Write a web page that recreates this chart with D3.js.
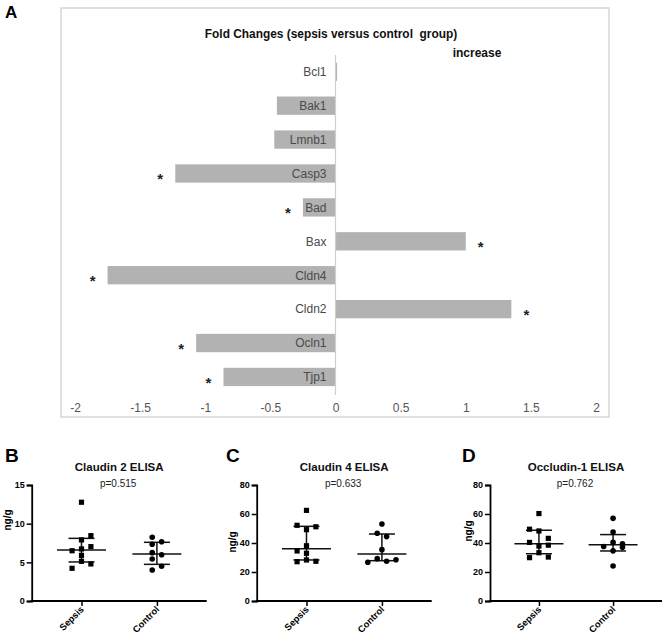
<!DOCTYPE html>
<html>
<head>
<meta charset="utf-8">
<script src="https://cdn.jsdelivr.net/npm/d3@7"></script>
<style>
  html, body { margin: 0; padding: 0; background: #fff; }
  svg { display: block; font-family: "Liberation Sans", Arial, sans-serif; }
</style>
</head>
<body>
<svg id="chart" width="669" height="637"></svg>
<script>
// ---------- Panel A data ----------
const genes = ['Bcl1', 'Bak1', 'Lmnb1', 'Casp3', 'Bad', 'Bax', 'Cldn4', 'Cldn2', 'Ocln1', 'Tjp1'];
const foldChanges = [0.012, -0.45, -0.47, -1.23, -0.25, 1.0, -1.75, 1.35, -1.07, -0.86];
const significant = [false, false, false, true, true, true, true, true, true, true];
const foldTicks = [-2, -1.5, -1, -0.5, 0, 0.5, 1, 1.5, 2];
const foldTickLabels = ['-2', '-1.5', '-1', '-0.5', '0', '0.5', '1', '1.5', '2'];
const titleA = 'Fold Changes (sepsis versus control  group)';
const increaseLabel = 'increase';

// ---------- Panels B-D data ----------
const groups = ['Sepsis', 'Control'];
const panelLetters = ['B', 'C', 'D'];
const panelTitles = ['Claudin 2 ELISA', 'Claudin 4 ELISA', 'Occludin-1 ELISA'];
const pValues = ['p=0.515', 'p=0.633', 'p=0.762'];
const yMaxes = [15, 80, 80];
const yTicksB = [0, 5, 10, 15];
const yTicksCD = [0, 20, 40, 60, 80];

const claudin2Sepsis  = [12.77, 8.45, 7.9, 7.03, 6.73, 6.5, 5.9, 5.13, 4.79, 4.23];
const claudin2SepsisSlot = [0, 1, 0, 1, 0, -1, 0, 0, 1, -1];
const claudin2Control = [8.24, 7.33, 7.67, 6.25, 5.99, 5.43, 4.49, 4.01];
const claudin2ControlSlot = [-0.5, -0.5, 0.5, -0.5, 0.5, -0.5, 0.5, -0.5];
const claudin2SepsisStats  = [5.05, 6.6, 8.1];   // q1, median, q3
const claudin2ControlStats = [4.74, 6.08, 7.59];

const claudin4Sepsis  = [62.5, 52.2, 51.2, 49.2, 38.1, 34.5, 32.9, 28.3, 27.1, 27.4];
const claudin4SepsisSlot = [0, -1, 1, 0, 0, -1, 0, 0, -1, 1];
const claudin4Control = [53.1, 46.7, 44.4, 35.4, 29.2, 26.7, 27.4, 28.5];
const claudin4ControlSlot = [0, -0.5, 0.5, 0, -0.5, -1.5, 0.5, 1.5];
const claudin4SepsisStats  = [28.3, 36.1, 51.5];
const claudin4ControlStats = [27.8, 32.4, 46.2];

const occludinSepsis  = [60.3, 49.5, 48.3, 43.2, 40.4, 37.9, 38.5, 33.3, 29.9, 30.3];
const occludinSepsisSlot = [0, -1, 0, 1, -1, 0, 1, 0, -1, 1];
const occludinControl = [57, 47.6, 40.4, 37.6, 39.5, 34.6, 37.0, 24.1];
const occludinControlSlot = [0, 0, 0, -1, 1, 0, 1, 0];
const occludinSepsisStats  = [32.6, 39.4, 48.8];
const occludinControlStats = [34.5, 38.8, 45.8];

const FONT = '"Liberation Sans", Arial, sans-serif';
const svg = d3.select('#chart');

// ================= Panel A =================
svg.append('text').attr('x', 5).attr('y', 17.5)
  .attr('font-size', 17).attr('font-weight', 'bold').text('A');

svg.append('rect').attr('x', 61).attr('y', 8).attr('width', 548).attr('height', 409)
  .attr('fill', 'none').attr('stroke', '#d6d6d6').attr('stroke-width', 1.5);

svg.append('text').attr('x', 331).attr('y', 37.5)
  .attr('text-anchor', 'middle').attr('font-size', 11.9).attr('font-weight', 'bold')
  .attr('fill', '#111').style('white-space', 'pre').text(titleA);
svg.append('text').attr('x', 477).attr('y', 56.5)
  .attr('text-anchor', 'middle').attr('font-size', 12).attr('font-weight', 'bold')
  .attr('fill', '#111').text(increaseLabel);

const xA = d3.scaleLinear().domain([-2, 2]).range([75, 596]);
const yA = d3.scaleBand().domain(genes).range([47, 401.7]).paddingInner(0.46).paddingOuter(0.46);

const aData = genes.map((g, i) => ({ gene: g, v: foldChanges[i], sig: significant[i] }));

svg.append('g').selectAll('rect').data(aData).join('rect')
  .attr('x', d => Math.min(xA(0), xA(d.v)))
  .attr('y', d => yA(d.gene))
  .attr('width', d => Math.abs(xA(d.v) - xA(0)))
  .attr('height', yA.bandwidth())
  .attr('fill', '#b2b2b2');

// zero line
svg.append('line').attr('x1', xA(0)).attr('x2', xA(0)).attr('y1', 55).attr('y2', 395)
  .attr('stroke', '#cfcfcf').attr('stroke-width', 1.2);

// category labels
svg.append('g').selectAll('text').data(aData).join('text')
  .attr('x', xA(0) - 9)
  .attr('y', d => yA(d.gene) + yA.bandwidth() / 2 + 4.3)
  .attr('text-anchor', 'end').attr('font-size', 12).attr('fill', '#4a4a4a')
  .text(d => d.gene);

// asterisks
svg.append('g').selectAll('text').data(aData.filter(d => d.sig)).join('text')
  .attr('x', d => xA(d.v) + (d.v < 0 ? -15 : 15))
  .attr('y', d => yA(d.gene) + yA.bandwidth() / 2 + 11)
  .attr('text-anchor', 'middle').attr('font-size', 15).attr('font-weight', 'bold')
  .attr('fill', '#222').text('*');

// x axis tick labels
const axA = d3.axisBottom(xA).tickValues(foldTicks)
  .tickFormat((d, i) => foldTickLabels[i]).tickSize(0).tickPadding(0);
const gAxA = svg.append('g').attr('transform', 'translate(0,403.5)').call(axA);
gAxA.select('.domain').remove();
gAxA.selectAll('text').attr('font-size', 12).attr('fill', '#555').attr('font-family', FONT);

// ================= Panels B-D =================
const panels = [
  { axisX0: 31.7, axisX1: 206.7, letterX: 5, ylabX: 10.5, ylabY: 520,
    sepsis: claudin2Sepsis, sSlot: claudin2SepsisSlot, control: claudin2Control, cSlot: claudin2ControlSlot,
    sStats: claudin2SepsisStats, cStats: claudin2ControlStats, ticks: yTicksB },
  { axisX0: 256.7, axisX1: 431.7, letterX: 226, ylabX: 235.5, ylabY: 542,
    sepsis: claudin4Sepsis, sSlot: claudin4SepsisSlot, control: claudin4Control, cSlot: claudin4ControlSlot,
    sStats: claudin4SepsisStats, cStats: claudin4ControlStats, ticks: yTicksCD },
  { axisX0: 490, axisX1: 662, letterX: 462, ylabX: 471.5, ylabY: 531,
    sepsis: occludinSepsis, sSlot: occludinSepsisSlot, control: occludinControl, cSlot: occludinControlSlot,
    sStats: occludinSepsisStats, cStats: occludinControlStats, ticks: yTicksCD }
];

const yTop = 485, yBot = 601;
const slotStep = 9.4;

panels.forEach((p, k) => {
  const g = svg.append('g');
  const y = d3.scaleLinear().domain([0, yMaxes[k]]).range([yBot, yTop]);
  const x = d3.scalePoint().domain(groups).range([p.axisX0, p.axisX1]).padding(0.66);
  const plotCenter = (x('Sepsis') + x('Control')) / 2;

  g.append('text').attr('x', p.letterX).attr('y', 462)
    .attr('font-size', 19).attr('font-weight', 'bold').text(panelLetters[k]);

  g.append('text').attr('x', plotCenter).attr('y', 471)
    .attr('text-anchor', 'middle').attr('font-size', 11.5).attr('font-weight', 'bold')
    .attr('fill', '#111').text(panelTitles[k]);
  g.append('text').attr('x', plotCenter - 1).attr('y', 486.5)
    .attr('text-anchor', 'middle').attr('font-size', 10).attr('fill', '#222').text(pValues[k]);

  // y axis
  const yAx = d3.axisLeft(y).tickValues(p.ticks).tickSize(5).tickPadding(2).tickFormat(d3.format('d'));
  const gy = g.append('g').attr('transform', `translate(${p.axisX0},0)`).call(yAx);
  gy.select('.domain').attr('stroke-width', 1.8).attr('stroke', '#000');
  gy.selectAll('.tick line').attr('stroke-width', 1.5).attr('stroke', '#000');
  gy.selectAll('text').attr('font-size', 9).attr('font-weight', 'bold')
    .attr('font-family', FONT).attr('fill', '#000');

  // x axis
  const xAx = d3.axisBottom(x).tickSize(5).tickSizeOuter(0).tickFormat('');
  const gx = g.append('g').attr('transform', `translate(0,${yBot})`).call(xAx);
  gx.select('.domain').attr('stroke-width', 1.8).attr('stroke', '#000')
    .attr('d', `M${p.axisX0 - 0.9},0H${p.axisX1}`);
  gx.selectAll('.tick line').attr('stroke-width', 1.5).attr('stroke', '#000');

  g.append('g').selectAll('text').data(groups).join('text')
    .attr('transform', d => `translate(${x(d) + 3},${yBot + 9}) rotate(-45)`)
    .attr('text-anchor', 'end').attr('font-size', 9.3).attr('font-weight', 'bold')
    .attr('fill', '#000').text(d => d);

  // y label
  g.append('text').attr('transform', `translate(${p.ylabX},${p.ylabY}) rotate(-90)`)
    .attr('text-anchor', 'middle').attr('font-size', 10).attr('font-weight', 'bold')
    .attr('fill', '#000').text('ng/g');

  // summary lines (median and interquartile range)
  const drawStats = (cx, st) => {
    const sg = g.append('g').attr('stroke', '#111').attr('stroke-width', 1.5);
    sg.append('line').attr('x1', cx).attr('x2', cx).attr('y1', y(st[0])).attr('y2', y(st[2]));
    sg.append('line').attr('x1', cx - 13).attr('x2', cx + 13).attr('y1', y(st[0])).attr('y2', y(st[0]));
    sg.append('line').attr('x1', cx - 13).attr('x2', cx + 13).attr('y1', y(st[2])).attr('y2', y(st[2]));
    sg.append('line').attr('x1', cx - 24.5).attr('x2', cx + 24.5).attr('y1', y(st[1])).attr('y2', y(st[1]));
  };
  drawStats(x('Sepsis'), p.sStats);
  drawStats(x('Control'), p.cStats);

  // points
  const sPts = p.sepsis.map((v, i) => ({ v, s: p.sSlot[i] }));
  const cPts = p.control.map((v, i) => ({ v, s: p.cSlot[i] }));
  g.append('g').selectAll('rect').data(sPts).join('rect')
    .attr('x', d => x('Sepsis') + d.s * slotStep - 2.6)
    .attr('y', d => y(d.v) - 2.6)
    .attr('width', 5.2).attr('height', 5.2).attr('fill', '#000');
  g.append('g').selectAll('circle').data(cPts).join('circle')
    .attr('cx', d => x('Control') + d.s * slotStep)
    .attr('cy', d => y(d.v))
    .attr('r', 2.8).attr('fill', '#000');
});
</script>
</body>
</html>
